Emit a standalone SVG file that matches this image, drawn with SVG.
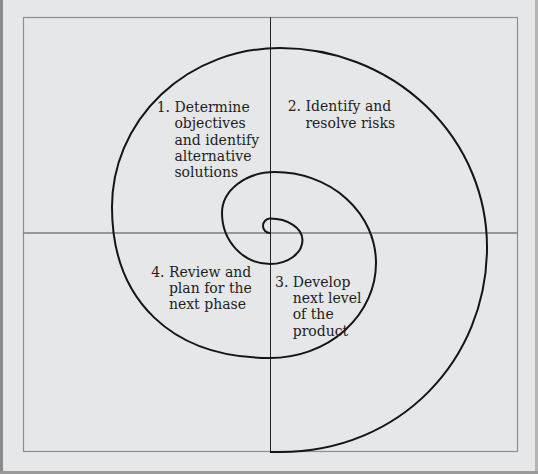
<svg xmlns="http://www.w3.org/2000/svg" width="538" height="474" viewBox="0 0 538 474">
<style>
.lbl{font-family:"DejaVu Serif","Liberation Serif",serif;font-size:14px;fill:#1e1e1e}
</style>
<rect x="0" y="0" width="538" height="474" fill="#e6e7e8"/>
<rect x="0" y="0" width="3" height="474" fill="#8a8a8a"/>
<rect x="535" y="0" width="3" height="474" fill="#b4b4b4"/>
<rect x="0" y="471" width="538" height="3" fill="#9a9a9a"/>
<g id="frame">
<rect x="23.5" y="17.5" width="494" height="434" fill="none" stroke="#8e8e8e" stroke-width="1.2"/>
<line x1="23.5" y1="233" x2="517.5" y2="233" stroke="#7c7c7c" stroke-width="1.5"/>
<line x1="270.5" y1="17.5" x2="270.5" y2="451.5" stroke="#222" stroke-width="1"/>
</g>
<g id="connectors">
<path id="spiral" d="M270,233 A7,7 0 0 1 263,226 A7,7.5 0 0 1 270,218.5 A32.5,21.5 0 0 1 302.5,240 A32.5,24 0 0 1 270,264 A48,51 0 0 1 222,213 A53,41 0 0 1 275,172 A101,91 0 0 1 376,263 A106,95 0 0 1 270,358 C172,358 112,300.6 112,207 A168,159 0 0 1 280,48 A207,199 0 0 1 487,247 C487,360 400,452 280,452 L270,452" fill="none" stroke="#151515" stroke-width="2"/>
</g>
<g id="q1">
<text class="lbl" x="156.7" y="111.7">1. Determine</text>
<text class="lbl" x="174.4" y="128.1">objectives</text>
<text class="lbl" x="174.4" y="144.5">and identify</text>
<text class="lbl" x="174.4" y="160.9">alternative</text>
<text class="lbl" x="174.4" y="177.3">solutions</text>
</g>
<g id="q2">
<text class="lbl" x="287.7" y="111.2">2. Identify and</text>
<text class="lbl" x="305.4" y="127.5">resolve risks</text>
</g>
<g id="q4">
<text class="lbl" x="151.2" y="276.5">4. Review and</text>
<text class="lbl" x="168.9" y="292.9">plan for the</text>
<text class="lbl" x="168.9" y="309.3">next phase</text>
</g>
<g id="q3">
<text class="lbl" x="275" y="286.6">3. Develop</text>
<text class="lbl" x="292.7" y="303">next level</text>
<text class="lbl" x="292.7" y="319.4">of the</text>
<text class="lbl" x="292.7" y="335.8">product</text>
</g>
</svg>
